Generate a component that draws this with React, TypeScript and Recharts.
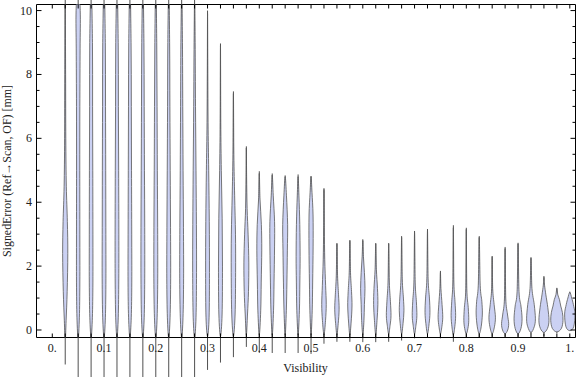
import React from 'react';
import { ComposedChart, XAxis, YAxis, Scatter, ReferenceLine } from 'recharts';

// Category positions (Visibility)
const visibility = [
  0.025, 0.05, 0.075, 0.1, 0.125, 0.15, 0.175, 0.2, 0.225, 0.25,
  0.275, 0.3, 0.325, 0.35, 0.375, 0.4, 0.425, 0.45, 0.475, 0.5,
  0.525, 0.55, 0.575, 0.6, 0.625, 0.65, 0.675, 0.7, 0.725, 0.75,
  0.775, 0.8, 0.825, 0.85, 0.875, 0.9, 0.925, 0.95, 0.975, 1.0,
];

// Range of SignedError per category (whiskers)
const minError = [
  -1.08, -1.9, -1.9, -1.8, -1.8, -1.8, -1.7, -1.7, -1.6, -1.6,
  -1.55, -1.25, -1.02, -0.85, -0.53, -0.72, -0.72, -0.72, -0.72, -0.75,
  -0.43, -0.37, -0.37, -0.38, -0.38, -0.37, -0.33, -0.26, -0.24, -0.26,
  -0.37, -0.24, -0.24, -0.21, -0.21, -0.21, -0.13, -0.19, -0.1, 0.0,
];
const maxError = [
  12.0, 12.5, 12.5, 12.3, 12.0, 12.0, 11.8, 11.5, 11.2, 10.8,
  10.5, 10.0, 8.97, 7.47, 5.75, 4.97, 4.9, 4.84, 4.87, 4.82,
  4.44, 2.72, 2.81, 2.84, 2.72, 2.72, 2.94, 3.1, 3.16, 1.85,
  3.28, 3.2, 2.94, 2.31, 2.6, 2.73, 2.28, 1.69, 1.32, 1.2,
];

// Smoothed density profile per category: [SignedError, relative density]
const densityProfiles: [number, number][][] = [
  [[-0.35, 0], [0.3, 0.14], [1.2, 0.3], [2.4, 0.4], [3.4, 0.33], [4.5, 0.17], [6, 0.09], [8, 0.06], [10.5, 0]],
  [[-0.3, 0], [0.4, 0.19], [1.5, 0.26], [3, 0.26], [5, 0.25], [7, 0.26], [8.8, 0.3], [10, 0.32], [11, 0]],
  [[-0.25, 0], [0.4, 0.2], [1.5, 0.28], [3, 0.28], [5, 0.26], [7, 0.23], [9, 0.21], [11, 0]],
  [[-0.25, 0], [0.4, 0.21], [1.6, 0.29], [3.2, 0.28], [5, 0.26], [7, 0.23], [9, 0.2], [11, 0]],
  [[-0.25, 0], [0.4, 0.2], [1.6, 0.28], [3, 0.29], [5, 0.26], [7, 0.22], [9, 0.19], [11, 0]],
  [[-0.25, 0], [0.4, 0.21], [1.5, 0.29], [3, 0.28], [5, 0.25], [7, 0.22], [9, 0.18], [11, 0]],
  [[-0.25, 0], [0.4, 0.21], [1.6, 0.29], [3.2, 0.29], [5, 0.25], [7, 0.21], [9, 0.17], [11, 0]],
  [[-0.25, 0], [0.4, 0.21], [1.6, 0.3], [3.2, 0.29], [5, 0.24], [7, 0.2], [9, 0.15], [11, 0]],
  [[-0.25, 0], [0.4, 0.21], [1.6, 0.3], [3.2, 0.28], [5, 0.23], [7, 0.18], [9, 0.14], [10.8, 0]],
  [[-0.25, 0], [0.4, 0.21], [1.6, 0.3], [3.2, 0.28], [5, 0.22], [7, 0.17], [9, 0.12], [10.6, 0]],
  [[-0.25, 0], [0.4, 0.22], [1.8, 0.3], [3.3, 0.28], [5, 0.22], [7, 0.14], [9, 0.08], [10.4, 0]],
  [[-0.2, 0], [0.4, 0.24], [1.8, 0.3], [3.4, 0.27], [5, 0.18], [6.5, 0.08], [8.5, 0.03], [9.9, 0]],
  [[-0.2, 0], [0.5, 0.25], [2, 0.31], [3.5, 0.26], [5, 0.13], [6.5, 0.05], [8.9, 0]],
  [[-0.2, 0], [0.5, 0.26], [1.8, 0.34], [3, 0.32], [4.2, 0.19], [5.5, 0.07], [7.4, 0]],
  [[-0.15, 0], [0.5, 0.18], [1.2, 0.33], [2.1, 0.38], [3, 0.27], [3.8, 0.12], [4.8, 0.04], [5.7, 0]],
  [[-0.15, 0], [0.6, 0.22], [1.5, 0.3], [2.5, 0.38], [3.3, 0.32], [4.1, 0.11], [4.9, 0]],
  [[-0.15, 0], [0.6, 0.2], [1.5, 0.28], [2.6, 0.36], [3.4, 0.36], [4.2, 0.16], [4.85, 0]],
  [[-0.15, 0], [0.6, 0.18], [1.5, 0.27], [2.5, 0.34], [3.3, 0.38], [4.2, 0.2], [4.8, 0]],
  [[-0.15, 0], [0.6, 0.2], [1.5, 0.27], [2.3, 0.31], [3.3, 0.26], [4.2, 0.13], [4.8, 0]],
  [[-0.15, 0], [0.6, 0.18], [1.5, 0.25], [2.6, 0.32], [3.6, 0.31], [4.3, 0.15], [4.8, 0]],
  [[-0.15, 0], [0.3, 0.24], [0.8, 0.35], [1.4, 0.25], [2.2, 0.12], [3.2, 0.05], [4.4, 0]],
  [[-0.15, 0], [0.2, 0.2], [0.65, 0.34], [1.1, 0.25], [1.7, 0.1], [2.7, 0]],
  [[-0.15, 0], [0.25, 0.2], [0.75, 0.33], [1.2, 0.26], [1.8, 0.1], [2.8, 0]],
  [[-0.15, 0], [0.3, 0.18], [0.8, 0.25], [1.3, 0.34], [1.8, 0.25], [2.3, 0.1], [2.8, 0]],
  [[-0.15, 0], [0.3, 0.2], [0.8, 0.33], [1.3, 0.27], [1.9, 0.1], [2.7, 0]],
  [[-0.12, 0], [0.15, 0.22], [0.45, 0.36], [0.9, 0.27], [1.5, 0.1], [2.7, 0]],
  [[-0.12, 0], [0.2, 0.22], [0.6, 0.36], [1.0, 0.28], [1.6, 0.1], [2.9, 0]],
  [[-0.12, 0], [0.15, 0.22], [0.45, 0.36], [0.9, 0.28], [1.5, 0.1], [3.05, 0]],
  [[-0.12, 0], [0.2, 0.25], [0.55, 0.38], [1.0, 0.3], [1.6, 0.1], [3.1, 0]],
  [[-0.12, 0], [0.1, 0.22], [0.4, 0.36], [0.8, 0.25], [1.3, 0.08], [1.8, 0]],
  [[-0.15, 0], [0.1, 0.22], [0.45, 0.35], [0.9, 0.25], [1.5, 0.08], [3.2, 0]],
  [[-0.12, 0], [0.05, 0.25], [0.3, 0.38], [0.7, 0.3], [1.3, 0.08], [3.15, 0]],
  [[-0.12, 0], [0.1, 0.3], [0.5, 0.48], [0.9, 0.4], [1.4, 0.15], [2.9, 0]],
  [[-0.12, 0], [0.1, 0.35], [0.4, 0.5], [0.8, 0.3], [1.3, 0.08], [2.3, 0]],
  [[-0.12, 0], [0.0, 0.4], [0.2, 0.55], [0.5, 0.36], [1.0, 0.1], [2.55, 0]],
  [[-0.12, 0], [0.05, 0.45], [0.35, 0.62], [0.75, 0.45], [1.2, 0.15], [2.7, 0]],
  [[-0.08, 0], [0.1, 0.5], [0.35, 0.68], [0.8, 0.5], [1.3, 0.15], [2.25, 0]],
  [[-0.08, 0], [0.05, 0.55], [0.3, 0.78], [0.7, 0.6], [1.1, 0.3], [1.4, 0.1], [1.65, 0]],
  [[-0.06, 0], [0.05, 0.7], [0.3, 0.95], [0.55, 0.85], [0.75, 0.6], [0.95, 0.4], [1.1, 0.15], [1.3, 0]],
  [[-0.02, 0], [0.1, 0.6], [0.5, 0.8], [0.8, 0.55], [1.0, 0.3], [1.18, 0]],
];

// Tick values and labels
const xTickValues = [0, ...visibility];
const xMajorTicks = [0, 0.1, 0.2, 0.3, 0.4, 0.5, 0.6, 0.7, 0.8, 0.9, 1.0];
const xMajorLabels = ['0.', '0.1', '0.2', '0.3', '0.4', '0.5', '0.6', '0.7', '0.8', '0.9', '1.'];
const yTickValues = [0, 0.5, 1, 1.5, 2, 2.5, 3, 3.5, 4, 4.5, 5, 5.5, 6, 6.5, 7, 7.5, 8, 8.5, 9, 9.5, 10];
const yMajorTicks = [0, 2, 4, 6, 8, 10];
const yMajorLabels = ['0', '2', '4', '6', '8', '10'];

const X_DOMAIN: [number, number] = [-0.0305, 1.011];
const Y_DOMAIN: [number, number] = [-0.235, 10.19];
const HALF_WIDTH = 0.0125; // max half-width of a violin in x units
const FONT = '"Liberation Serif", "Times New Roman", Times, serif';
const TEXT = '#222';
const FILL = '#cbd1f3';
const OUTLINE = '#585858';

function violinVertices(pos: number, prof: [number, number][]) {
  const n = prof.length;
  const inner = prof.slice(1, n - 1);
  return [
    { x: pos, y: prof[0][0] },
    ...inner.map(([y, d]) => ({ x: pos + d * HALF_WIDTH, y })),
    { x: pos, y: prof[n - 1][0] },
    ...inner.slice().reverse().map(([y, d]) => ({ x: pos - d * HALF_WIDTH, y })),
  ];
}

function smoothClosed(pts: { x: number; y: number }[]) {
  const n = pts.length;
  if (!n) return '';
  let d = `M${pts[0].x},${pts[0].y}`;
  for (let i = 0; i < n; i++) {
    const p0 = pts[(i - 1 + n) % n];
    const p1 = pts[i];
    const p2 = pts[(i + 1) % n];
    const p3 = pts[(i + 2) % n];
    const c1x = p1.x + (p2.x - p0.x) / 6;
    const c1y = p1.y + (p2.y - p0.y) / 6;
    const c2x = p2.x - (p3.x - p1.x) / 6;
    const c2y = p2.y - (p3.y - p1.y) / 6;
    d += ` C${c1x},${c1y} ${c2x},${c2y} ${p2.x},${p2.y}`;
  }
  return d + 'Z';
}

const renderViolin = (props: any) => (
  <path d={smoothClosed(props.points || [])} fill={FILL} stroke={OUTLINE} strokeWidth={0.8} strokeLinejoin="round" />
);
const EmptyShape = () => <g />;

const findLabel = (v: number, majors: number[], labels: string[]) => {
  const i = majors.findIndex((m) => Math.abs(m - v) < 1e-6);
  return i >= 0 ? labels[i] : null;
};

const BottomTick = (props: any) => {
  const { x, y, payload } = props;
  const label = findLabel(payload.value, xMajorTicks, xMajorLabels);
  return (
    <g>
      <line x1={x} x2={x} y1={y} y2={y - 4} stroke="#000" strokeWidth={1} />
      {label && (
        <text x={x} y={y + 14.5} textAnchor="middle" fontFamily={FONT} fontSize={12} fill={TEXT}>
          {label}
        </text>
      )}
    </g>
  );
};

const TopTick = (props: any) => {
  const { x, y } = props;
  return <line x1={x} x2={x} y1={y} y2={y + 4} stroke="#000" strokeWidth={1} />;
};

const LeftTick = (props: any) => {
  const { x, y, payload } = props;
  const label = findLabel(payload.value, yMajorTicks, yMajorLabels);
  const len = label ? 5 : 3;
  return (
    <g>
      <line x1={x} x2={x + len} y1={y} y2={y} stroke="#000" strokeWidth={1} />
      {label && (
        <text x={x - 4.5} y={y + 4} textAnchor="end" fontFamily={FONT} fontSize={12} fill={TEXT}>
          {label}
        </text>
      )}
    </g>
  );
};

const RightTick = (props: any) => {
  const { x, y, payload } = props;
  const label = findLabel(payload.value, yMajorTicks, yMajorLabels);
  const len = label ? 5 : 3;
  return <line x1={x} x2={x - len} y1={y} y2={y} stroke="#000" strokeWidth={1} />;
};

const frameAnchors = [
  { x: X_DOMAIN[0], y: Y_DOMAIN[0] },
  { x: X_DOMAIN[1], y: Y_DOMAIN[1] },
];

export default function App() {
  return (
    <div style={{ position: 'absolute', left: 0, top: 0, width: 576, height: 377, background: '#fff' }}>
      <ComposedChart width={576} height={377} margin={{ top: 3.5, right: -0.5, left: 0, bottom: 0 }}>
        <XAxis
          xAxisId="b"
          dataKey="x"
          type="number"
          domain={X_DOMAIN}
          allowDataOverflow
          ticks={xTickValues}
          interval={0}
          tickSize={0}
          tickMargin={0}
          tickLine={false}
          tick={BottomTick}
          height={39.5}
          axisLine={{ stroke: '#000', strokeWidth: 1 }}
        />
        <XAxis
          xAxisId="t"
          dataKey="x"
          orientation="top"
          type="number"
          domain={X_DOMAIN}
          allowDataOverflow
          ticks={xTickValues}
          interval={0}
          tickSize={0}
          tickMargin={0}
          tickLine={false}
          tick={TopTick}
          height={1}
          axisLine={{ stroke: '#000', strokeWidth: 1 }}
        />
        <YAxis
          yAxisId="l"
          dataKey="y"
          type="number"
          domain={Y_DOMAIN}
          allowDataOverflow
          ticks={yTickValues}
          interval={0}
          tickSize={0}
          tickMargin={0}
          tickLine={false}
          tick={LeftTick}
          width={36.5}
          axisLine={{ stroke: '#000', strokeWidth: 1 }}
        />
        <YAxis
          yAxisId="r"
          dataKey="y"
          orientation="right"
          type="number"
          domain={Y_DOMAIN}
          allowDataOverflow
          ticks={yTickValues}
          interval={0}
          tickSize={0}
          tickMargin={0}
          tickLine={false}
          tick={RightTick}
          width={1}
          axisLine={{ stroke: '#000', strokeWidth: 1 }}
        />
        <Scatter
          xAxisId="t"
          yAxisId="r"
          data={frameAnchors}
          isAnimationActive={false}
          shape={EmptyShape}
          legendType="none"
        />
        {visibility.map((v, i) => (
          <ReferenceLine
            key={`w${i}`}
            xAxisId="b"
            yAxisId="l"
            segment={[{ x: v, y: minError[i] }, { x: v, y: maxError[i] }]}
            ifOverflow="visible"
            stroke="#505050"
            strokeWidth={1}
          />
        ))}
        {visibility.map((v, i) => (
          <Scatter
            key={`v${i}`}
            xAxisId="b"
            yAxisId="l"
            data={violinVertices(v, densityProfiles[i])}
            isAnimationActive={false}
            shape={EmptyShape}
            line={renderViolin}
            lineType="joint"
            legendType="none"
          />
        ))}
      </ComposedChart>
      <svg width={576} height={377} style={{ position: 'absolute', left: 0, top: 0, pointerEvents: 'none' }}>
        <text x={305.5} y={372} textAnchor="middle" fontFamily={FONT} fontSize={12} fill={TEXT}>
          Visibility
        </text>
        <text
          x={11}
          y={171}
          transform="rotate(-90, 11, 171)"
          textAnchor="middle"
          fontFamily={FONT}
          fontSize={12}
          fill={TEXT}
          textLength={172}
          lengthAdjust="spacingAndGlyphs"
        >
          SignedError (Ref→Scan, OF) [mm]
        </text>
      </svg>
    </div>
  );
}
